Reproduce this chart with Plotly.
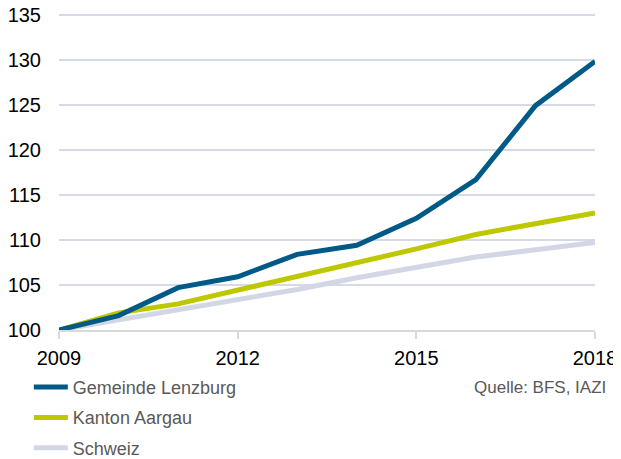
import plotly.graph_objects as go

years = [2009, 2010, 2011, 2012, 2013, 2014, 2015, 2016, 2017, 2018]
lenzburg = [100.0, 101.6, 104.7, 105.9, 108.4, 109.4, 112.4, 116.7, 124.9, 129.8]
aargau = [100.0, 101.9, 102.9, 104.4, 106.0, 107.5, 109.0, 110.6, 111.8, 113.0]
schweiz = [100.0, 101.1, 102.2, 103.3, 104.5, 105.8, 107.0, 108.1, 108.9, 109.7]

series = [
    ("Gemeinde Lenzburg", lenzburg, "#005A87"),
    ("Kanton Aargau", aargau, "#BDC800"),
    ("Schweiz", schweiz, "#D3D6E5"),
]

x_ticks = [2009, 2012, 2015, 2018]
y_ticks = [100, 105, 110, 115, 120, 125, 130, 135]
source_text = "Quelle: BFS, IAZI"

fig = go.Figure()
# draw Schweiz first (bottom), Lenzburg last (top)
for i in [2, 1, 0]:
    name, vals, col = series[i]
    fig.add_trace(go.Scatter(
        x=years, y=vals, name=name, mode="lines",
        line=dict(color=col, width=5),
        legendgroup=f"g{i}", legendrank=i + 1,
        hoverinfo="skip",
    ))

fig.update_layout(
    width=613, height=451,
    margin=dict(l=51, r=26, t=3.4, b=129, autoexpand=False),
    plot_bgcolor="white", paper_bgcolor="white",
    font=dict(family="Liberation Sans, Arial, sans-serif", size=20, color="#000000"),
    showlegend=True,
    legend=dict(
        xref="container", yref="container",
        x=0.034, y=0.2, xanchor="left", yanchor="top",
        traceorder="grouped", tracegroupgap=4,
        font=dict(size=18, color="#595959"),
        itemwidth=34,
        bgcolor="rgba(0,0,0,0)",
    ),
    annotations=[dict(
        text=source_text, xref="paper", yref="paper",
        x=1.025, y=-0.179, xanchor="right", yanchor="middle",
        showarrow=False, font=dict(size=17, color="#595959"),
    )],
)

fig.update_xaxes(
    range=[2009, 2018], tickvals=x_ticks, ticktext=[str(v) for v in x_ticks],
    showgrid=False, zeroline=False,
    showline=True, linecolor="#D9D9D9", linewidth=2,
    ticks="outside", ticklen=7, tickwidth=2, tickcolor="#D9D9D9",
    ticklabelstandoff=2, ticklabeloverflow="allow",
    tickfont=dict(size=20, color="#000000"),
)
fig.update_yaxes(
    range=[100, 135.4], tickvals=y_ticks, ticktext=[str(v) for v in y_ticks],
    showgrid=True, gridcolor="#D6DAE8", gridwidth=1.5,
    zeroline=False, showline=False, ticks="",
    ticklabelstandoff=17, ticklabeloverflow="allow",
    tickfont=dict(size=20, color="#000000"),
)

fig.write_html("out.html")
